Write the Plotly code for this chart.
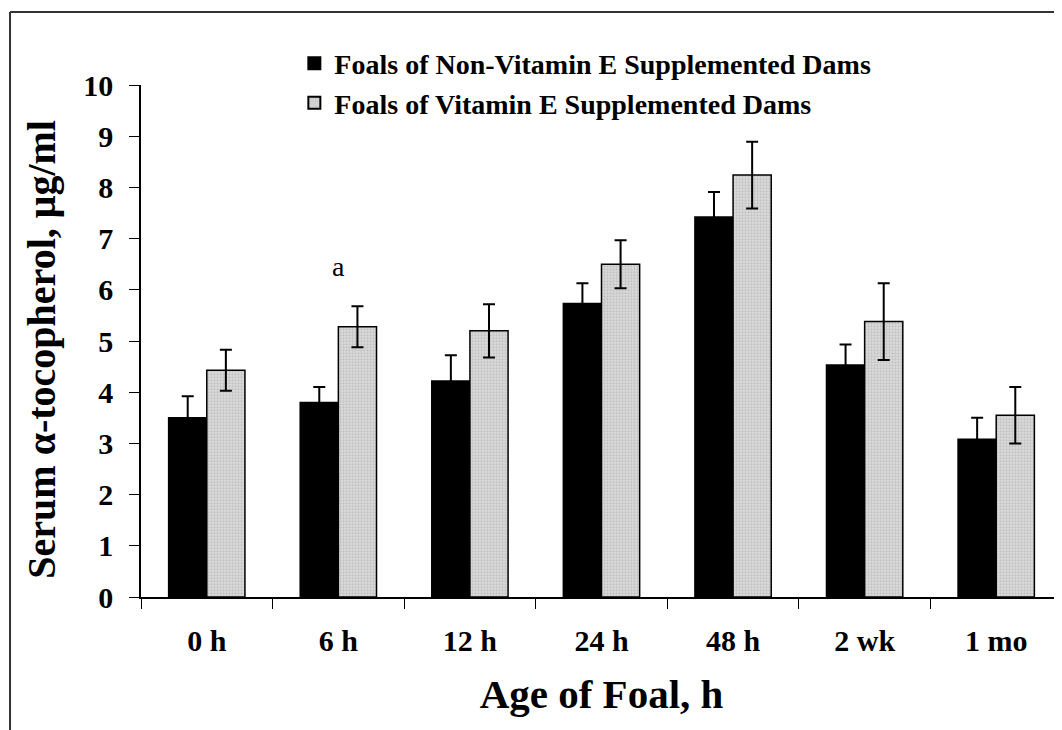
import plotly.graph_objects as go

categories = ["0 h", "6 h", "12 h", "24 h", "48 h", "2 wk", "1 mo"]
non_supp = [3.50, 3.80, 4.22, 5.73, 7.42, 4.53, 3.08]
non_supp_err = [0.42, 0.30, 0.50, 0.40, 0.49, 0.40, 0.42]
supp = [4.43, 5.28, 5.20, 6.50, 8.24, 5.38, 3.55]
supp_err = [0.40, 0.40, 0.52, 0.47, 0.65, 0.75, 0.55]
series_names = ["Foals of Non-Vitamin E Supplemented Dams",
                "Foals of Vitamin E Supplemented Dams"]
y_ticks = list(range(0, 11))
y_title = "Serum α-tocopherol, μg/ml"
x_title = "Age of Foal, h"

FONT = "Liberation Serif, Times New Roman, serif"

fig = go.Figure()
fig.add_trace(go.Bar(
    x=categories, y=non_supp, name=series_names[0],
    marker=dict(color="black", line=dict(color="black", width=1.5)),
    error_y=dict(type="data", array=non_supp_err, color="black", thickness=2, width=6),
))
fig.add_trace(go.Bar(
    x=categories, y=supp, name=series_names[1],
    marker=dict(color="#d4d4d4", line=dict(color="black", width=1.5),
                pattern=dict(shape=".", size=3, solidity=0.45, fgcolor="#a8a8a8", bgcolor="#dcdcdc")),
    error_y=dict(type="data", array=supp_err, color="black", thickness=2, width=6),
))

fig.add_annotation(x="6 h", y=6.45, text="a", showarrow=False,
                   font=dict(family=FONT, size=28, color="black"))

# y-axis title as rotated annotation (for exact placement)
fig.add_annotation(xref="paper", yref="paper", x=-0.1075, y=0.485, text=y_title,
                   textangle=-90, showarrow=False, xanchor="center", yanchor="middle",
                   font=dict(family=FONT, size=40, color="black", weight="bold"))

# outer frame (left and top edges)
fig.add_shape(type="line", xref="paper", yref="paper", x0=-0.1422, x1=-0.1422, y0=-0.3, y1=1.1426,
              line=dict(color="#333333", width=2))
fig.add_shape(type="line", xref="paper", yref="paper", x0=-0.1422, x1=1.1, y0=1.1426, y1=1.1426,
              line=dict(color="#333333", width=2))

fig.update_layout(
    width=1054, height=722,
    margin=dict(l=133, r=0, t=77, b=133, autoexpand=False),
    paper_bgcolor="white", plot_bgcolor="white",
    barmode="group", bargap=0.42, bargroupgap=0,
    font=dict(family=FONT, color="black"),
    showlegend=True,
    legend=dict(x=0.1665, y=1.0905, xanchor="left", yanchor="top",
                font=dict(family=FONT, size=28, color="black", weight="bold"),
                bgcolor="rgba(0,0,0,0)", tracegroupgap=0, itemsizing="constant"),
    xaxis=dict(
        showline=True, linecolor="black", linewidth=1.5,
        ticks="outside", ticklen=10, tickcolor="black", tickwidth=1,
        tickson="boundaries", ticklabelstandoff=16,
        tickfont=dict(family=FONT, size=30, color="black", weight="bold"),
        title=dict(text=x_title, standoff=24,
                   font=dict(family=FONT, size=41, color="black", weight="bold")),
        showgrid=False, zeroline=False, automargin=False,
    ),
    yaxis=dict(
        range=[0, 10], tickvals=y_ticks,
        showline=True, linecolor="black", linewidth=1.5,
        ticks="outside", ticklen=10, tickcolor="black", tickwidth=1,
        ticklabelstandoff=10,
        tickfont=dict(family=FONT, size=30, color="black", weight="bold"),
        showgrid=False, zeroline=False, automargin=False,
    ),
)

fig.write_html("out.html")
